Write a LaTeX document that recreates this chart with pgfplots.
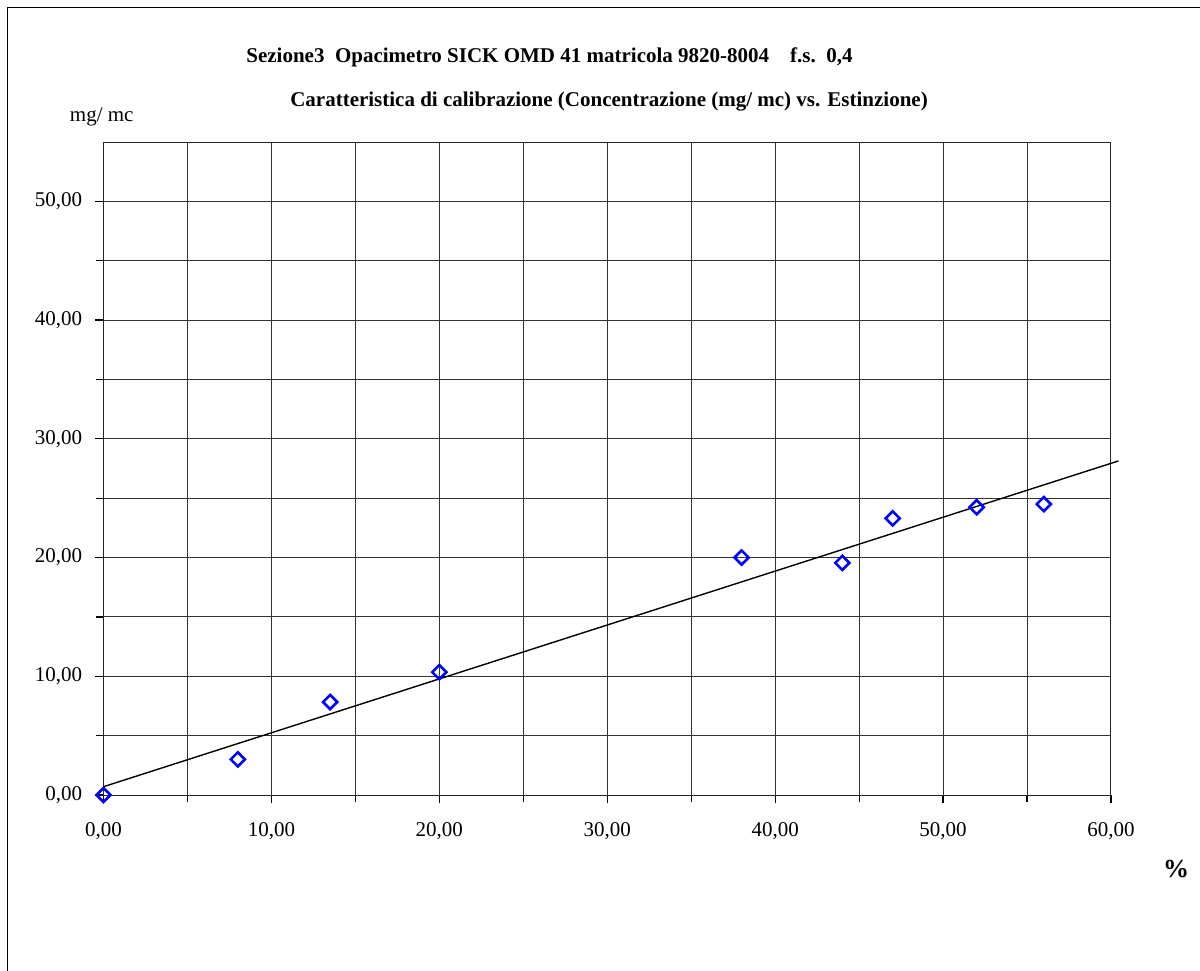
\documentclass[border=0pt]{standalone}
\usepackage{pgfplots}
\pgfplotsset{compat=1.18}
\usepackage{fontspec}
\setmainfont{Liberation Serif}
\begin{document}
\fontsize{10.5}{12.6}\selectfont
\begin{tikzpicture}
\useasboundingbox (-51.75pt,-87.5pt) rectangle (548.25pt,397.5pt);
\draw[line width=0.8pt] (-48pt,-95pt) -- (-48pt,393.75pt) -- (560pt,393.75pt);
\begin{axis}[at={(0pt,0pt)}, anchor=south west, scale only axis,
  width=503.75pt, height=326.5pt,
  xmin=0, xmax=60, ymin=0, ymax=55,
  xtick={0,10,...,60}, minor xtick={5,15,...,55},
  ytick={0,10,...,50}, minor ytick={5,15,...,45},
  grid=both,
  major grid style={black!80, line width=0.5pt},
  minor grid style={black!80, line width=0.5pt},
  tick pos=left, tick align=outside,
  major tick length=4pt, minor tick length=3.5pt,
  tick style={black, line width=0.6pt},
  axis line style={black!85, line width=0.5pt},
  clip=false,
  xticklabel style={yshift=-6pt},
  yticklabel style={xshift=-3pt},
  /pgf/number format/fixed,
  /pgf/number format/fixed zerofill,
  /pgf/number format/precision=2,
  /pgf/number format/use comma,
  /pgf/number format/1000 sep={},
  /pgf/number format/assume math mode=true,
]
\addplot[black, line width=0.7pt, no marks] coordinates {(0,0.70) (60.45,28.14)};
\addplot[only marks, mark=square, mark size=2.5pt,
  mark options={rotate=45, draw={rgb,255:red,0;green,0;blue,255}, line width=1.3pt, fill=none}]
  coordinates {
  (0,0) (8,3.0) (13.5,7.83) (20,10.35) (38,20.0) (44,19.55) (47,23.3) (52,24.24) (56,24.5)
  };
\end{axis}
\node[font=\bfseries] at (223pt,369pt) {Sezione3\ \ Opacimetro SICK OMD 41 matricola 9820-8004\ \ \ \ f.s.\ \ 0,4};
\node[font=\bfseries] at (252.75pt,346.5pt) {Caratteristica di calibrazione (Concentrazione (mg/ mc) vs. Estinzione)};
\node at (-0.9pt,339.2pt) {mg/ mc};
\node[font=\bfseries\fontsize{13}{15}\selectfont] at (536.25pt,-37pt) {\%};
\end{tikzpicture}
\end{document}
